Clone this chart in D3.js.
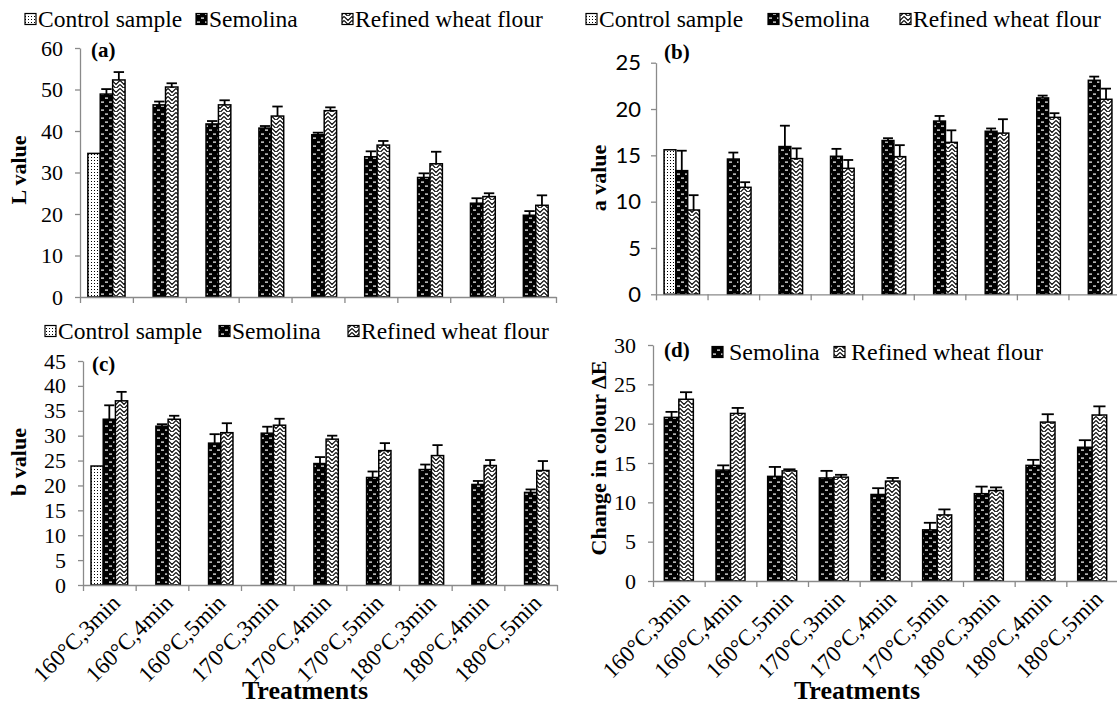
<!DOCTYPE html>
<html><head><meta charset="utf-8">
<script src="https://cdn.jsdelivr.net/npm/d3@7"></script>
<style>body{margin:0;background:#fff} svg{display:block}</style>
</head><body>
<svg id="chart" width="1117" height="708"></svg>
<script>
// ---------- DATA ----------
const treatments = ["160°C,3min","160°C,4min","160°C,5min","170°C,3min","170°C,4min","170°C,5min","180°C,3min","180°C,4min","180°C,5min"];
const seriesNames = ["Control sample","Semolina","Refined wheat flour"];

// (a) L value
const L_control    = [34.6, null, null, null, null, null, null, null, null];
const L_semolina   = [48.9, 46.3, 41.7, 40.7, 39.1, 33.8, 28.8, 22.6, 19.7];
const L_semolinaEr = [1.2, 0.8, 0.7, 0.5, 0.5, 1.3, 1.0, 1.2, 1.0];
const L_refined    = [52.3, 50.6, 46.3, 43.6, 44.9, 36.6, 32.1, 24.2, 22.1];
const L_refinedEr  = [1.9, 0.9, 1.1, 2.3, 0.8, 1.0, 2.9, 0.8, 2.4];

// (b) a value
const a_control    = [15.6, null, null, null, null, null, null, null, null];
const a_semolina   = [13.35, 14.6, 15.95, 14.9, 16.6, 18.7, 17.6, 21.2, 23.1];
const a_semolinaEr = [2.15, 0.7, 2.25, 0.8, 0.25, 0.55, 0.3, 0.25, 0.4];
const a_refined    = [9.1, 11.55, 14.65, 13.6, 14.86, 16.4, 17.4, 19.1, 21.05];
const a_refinedEr  = [1.6, 0.55, 1.1, 0.9, 1.24, 1.3, 1.5, 0.45, 1.15];

// (c) b value
const b_control    = [23.9, null, null, null, null, null, null, null, null];
const b_semolina   = [33.3, 31.9, 28.5, 30.5, 24.4, 21.6, 23.2, 20.2, 18.6];
const b_semolinaEr = [2.8, 0.4, 1.8, 1.3, 1.3, 1.2, 1.0, 0.7, 0.6];
const b_refined    = [37.0, 33.3, 30.6, 32.1, 29.3, 27.0, 26.0, 24.0, 23.0];
const b_refinedEr  = [1.8, 0.7, 1.9, 1.3, 0.7, 1.5, 2.1, 1.1, 1.9];

// (d) Change in colour ΔE
const dE_semolina   = [20.8, 14.1, 13.3, 13.1, 11.0, 6.5, 11.1, 14.7, 17.0];
const dE_semolinaEr = [0.7, 0.6, 1.2, 0.9, 0.8, 0.9, 0.9, 0.7, 0.9];
const dE_refined    = [23.1, 21.3, 14.0, 13.2, 12.7, 8.4, 11.5, 20.2, 21.1];
const dE_refinedEr  = [0.9, 0.7, 0.2, 0.3, 0.4, 0.7, 0.4, 1.0, 1.1];

// ---------- SETUP ----------
const SERIF = "'Liberation Serif','Times New Roman',serif";
const SANS = "Lato,'Liberation Sans',sans-serif";
const AXIS = "#8a8a8a";
const svg = d3.select("#chart");
const defs = svg.append("defs");

// patterns
const pCtl = defs.append("pattern").attr("id","pCtl").attr("patternUnits","userSpaceOnUse").attr("width",3).attr("height",3);
pCtl.append("rect").attr("width",3).attr("height",3).attr("fill","#fff");
pCtl.append("rect").attr("x",1).attr("y",1).attr("width",1).attr("height",1).attr("fill","#000");

const pSem = defs.append("pattern").attr("id","pSem").attr("patternUnits","userSpaceOnUse").attr("width",8).attr("height",8);
pSem.append("rect").attr("width",8).attr("height",8).attr("fill","#000");
pSem.append("rect").attr("x",1).attr("y",1.5).attr("width",3).attr("height",1.2).attr("fill","#fff");
pSem.append("rect").attr("x",5).attr("y",5.5).attr("width",3).attr("height",1.2).attr("fill","#fff");

const pRef = defs.append("pattern").attr("id","pRef").attr("patternUnits","userSpaceOnUse").attr("width",8).attr("height",8);
pRef.append("rect").attr("width",8).attr("height",8).attr("fill","#fff");
pRef.append("path").attr("d","M0,0.5 L4,4.5 L8,0.5 M0,4.5 L4,8.5 L8,4.5").attr("stroke","#000").attr("stroke-width",1.1).attr("fill","none");

const patternOf = {"Control sample":"url(#pCtl)","Semolina":"url(#pSem)","Refined wheat flour":"url(#pRef)"};

function panel(cfg){
  const g = svg.append("g");
  const x = d3.scaleBand().domain(treatments).range([cfg.left, cfg.right]).padding(0);
  const n = cfg.series.length;
  const gap = (x.bandwidth() - cfg.barW*n)/2;
  const inner = d3.scaleBand().domain(cfg.series.map(s=>s.name)).range([gap, x.bandwidth()-gap]).padding(0);
  const y = d3.scaleLinear().domain([0, cfg.max]).range([cfg.bottom, cfg.top]);

  // y axis
  const ya = g.append("g").attr("transform",`translate(${cfg.left},0)`)
    .call(d3.axisLeft(y).tickValues(d3.range(0, cfg.max+0.001, cfg.step)).tickSize(5).tickSizeOuter(0).tickPadding(cfg.tickPad||12));
  ya.select(".domain").attr("stroke",AXIS).attr("stroke-width",1.3);
  ya.selectAll(".tick line").attr("stroke",AXIS).attr("stroke-width",1.3);
  ya.selectAll(".tick text").attr("font-family",cfg.tickFont).attr("font-size",cfg.tickSize).attr("fill","#000");

  // bars
  cfg.series.forEach(s=>{
    const data = treatments.map((t,i)=>({t, v:s.values[i], e:s.errors?s.errors[i]:null})).filter(d=>d.v!=null);
    g.append("g").selectAll("rect").data(data).join("rect")
      .attr("x", d=>x(d.t)+inner(s.name))
      .attr("y", d=>y(d.v))
      .attr("width", inner.bandwidth())
      .attr("height", d=>y(0)-y(d.v))
      .attr("fill", patternOf[s.name])
      .attr("stroke","#000").attr("stroke-width",1.5);
    const eb = data.filter(d=>d.e!=null);
    const cx = d=>x(d.t)+inner(s.name)+inner.bandwidth()/2;
    const cw = inner.bandwidth()*0.42;
    g.append("g").selectAll("line").data(eb).join("line")
      .attr("x1",cx).attr("x2",cx).attr("y1",d=>y(d.v)).attr("y2",d=>y(d.v+d.e))
      .attr("stroke","#000").attr("stroke-width",1.8);
    g.append("g").selectAll("line").data(eb).join("line")
      .attr("x1",d=>cx(d)-cw).attr("x2",d=>cx(d)+cw).attr("y1",d=>y(d.v+d.e)).attr("y2",d=>y(d.v+d.e))
      .attr("stroke","#000").attr("stroke-width",1.8);
  });

  // x axis (category boundaries)
  const xb = d3.scaleLinear().domain([0, treatments.length]).range([cfg.left, cfg.right]);
  const xa = g.append("g").attr("transform",`translate(0,${cfg.bottom})`)
    .call(d3.axisBottom(xb).tickValues(d3.range(0, treatments.length+1)).tickSize(6).tickSizeOuter(0).tickFormat(""));
  xa.select(".domain").attr("stroke",AXIS).attr("stroke-width",1.3);
  xa.selectAll(".tick line").attr("stroke",AXIS).attr("stroke-width",1.3);

  if (cfg.xLabels){
    g.append("g").selectAll("text").data(treatments).join("text")
      .attr("transform", d=>`translate(${x(d)+x.bandwidth()/2+7},${cfg.bottom+14}) rotate(-45)`)
      .attr("text-anchor","end").attr("dominant-baseline","central")
      .attr("font-family",SERIF).attr("font-size",23).text(d=>d);
    g.append("text").attr("x",cfg.xTitleX).attr("y",cfg.xTitleY).attr("text-anchor","middle")
      .attr("font-family",SERIF).attr("font-weight","bold").attr("font-size",26).text("Treatments");
  }

  // y title
  g.append("text").attr("transform",`translate(${cfg.yTitleX},${cfg.yTitleY}) rotate(-90)`)
    .attr("text-anchor","middle").attr("dominant-baseline","central")
    .attr("font-family",SERIF).attr("font-weight","bold").attr("font-size",22).text(cfg.yTitle);

  // panel label
  g.append("text").attr("x",cfg.labX).attr("y",cfg.labY).attr("dominant-baseline","central")
    .attr("font-family",SERIF).attr("font-weight","bold").attr("font-size",21).text(cfg.label);

  // legend
  const lg = g.append("g");
  cfg.legend.forEach((it)=>{
    lg.append("rect").attr("x",it.x).attr("y",cfg.legY-5.5).attr("width",11).attr("height",11)
      .attr("fill",patternOf[it.name]).attr("stroke","#000").attr("stroke-width",1.2);
    lg.append("text").attr("x",it.x+(cfg.legTextGap||13)).attr("y",cfg.legY).attr("dominant-baseline","central")
      .attr("font-family",SERIF).attr("font-size",cfg.legSize||23.5).text(it.name);
  });
}

panel({
  left:80, right:556, top:48, bottom:297, max:60, step:10, barW:12.4,
  tickFont:SERIF, tickSize:22,
  series:[{name:"Control sample", values:L_control},
          {name:"Semolina", values:L_semolina, errors:L_semolinaEr},
          {name:"Refined wheat flour", values:L_refined, errors:L_refinedEr}],
  xLabels:false, yTitle:"L value", yTitleX:18, yTitleY:170,
  label:"(a)", labX:91, labY:50,
  legY:19, legend:[{name:"Control sample",x:25},{name:"Semolina",x:196},{name:"Refined wheat flour",x:342}]
});

panel({
  left:656, right:1120, top:62.7, bottom:294.3, max:25, step:5, barW:11.8,
  tickFont:SANS, tickSize:22, tickPad:10,
  series:[{name:"Control sample", values:a_control},
          {name:"Semolina", values:a_semolina, errors:a_semolinaEr},
          {name:"Refined wheat flour", values:a_refined, errors:a_refinedEr}],
  xLabels:false, yTitle:"a value", yTitleX:598, yTitleY:178,
  label:"(b)", labX:664, labY:52,
  legY:19, legend:[{name:"Control sample",x:586},{name:"Semolina",x:768},{name:"Refined wheat flour",x:900}]
});

panel({
  left:83, right:557, top:361, bottom:585, max:45, step:5, barW:12.2,
  tickFont:SERIF, tickSize:22,
  series:[{name:"Control sample", values:b_control},
          {name:"Semolina", values:b_semolina, errors:b_semolinaEr},
          {name:"Refined wheat flour", values:b_refined, errors:b_refinedEr}],
  xLabels:true, xTitleX:305, xTitleY:699, yTitle:"b value", yTitleX:18, yTitleY:462,
  label:"(c)", labX:92, labY:364,
  legY:331, legend:[{name:"Control sample",x:45},{name:"Semolina",x:219},{name:"Refined wheat flour",x:348}]
});

panel({
  left:653, right:1118, top:345, bottom:581, max:30, step:5, barW:14.5,
  tickFont:SERIF, tickSize:22,
  series:[{name:"Semolina", values:dE_semolina, errors:dE_semolinaEr},
          {name:"Refined wheat flour", values:dE_refined, errors:dE_refinedEr}],
  xLabels:true, xTitleX:857, xTitleY:699, yTitle:"Change in colour ΔE", yTitleX:598, yTitleY:458,
  label:"(d)", labX:664, labY:350,
  legY:352, legTextGap:17, legSize:24, legend:[{name:"Semolina",x:712},{name:"Refined wheat flour",x:834}]
});
</script>
</body></html>
